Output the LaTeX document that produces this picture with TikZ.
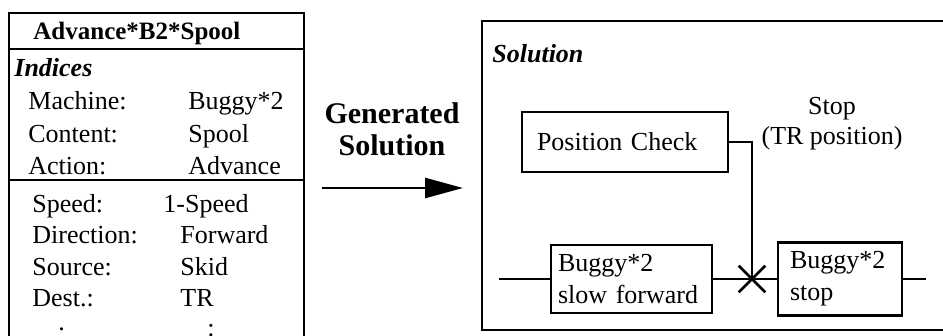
\documentclass[tikz,border=0pt]{standalone}
\usepackage{fontspec}
\setmainfont{Liberation Serif}
\usetikzlibrary{positioning, arrows.meta, shapes.misc}
\tikzset{
frame/.style={line width=1.2pt}, % the two outer panels
blk/.style={draw, rectangle, line width=1.1pt, align=left}, % function blocks
wire/.style={line width=1.3pt}, % signal lines
}

\begin{document}
\begin{tikzpicture}[x=0.5pt, y=-0.5pt, font=\fontsize{13}{16}\selectfont, lbl/.style={anchor=base west, inner sep=0pt}, >={Triangle[length=19pt,width=10pt]}]
\useasboundingbox (0,0) rectangle (943,336);
% index table
\draw[frame] (9,336) -- (9,13) -- (304,13) -- (304,336);
\draw[frame] (9,49) -- (304,49) (9,180) -- (304,180);
\node[lbl, font=\fontsize{12.5}{15}\selectfont\bfseries] (title) at (33,40) {Advance*B2*Spool};
\node[lbl, font=\fontsize{13}{16}\selectfont\bfseries\itshape] (idx) at (14,77) {Indices};
\foreach \k/\v/\y in {Machine:/Buggy*2/110, Content:/Spool/143, Action:/Advance/175}
  {\node[lbl] (k\y) at (28,\y) {\k}; \node[lbl] (v\y) at (188,\y) {\v};}
\foreach \k/\v/\vx/\y in {Speed:/1-Speed/163/213, Direction:/Forward/180/244, Source:/Skid/180/276, Dest.:/TR/180/307}
  {\node[lbl] (k\y) at (32,\y) {\k}; \node[lbl] (v\y) at (\vx,\y) {\v};}
\node[lbl] (dl) at (58,331) {.};
\node[lbl] (dr) at (207,337) {:};

% generated solution arrow
\node[align=center, font=\fontsize{15}{16}\selectfont\bfseries] (gen) at (392,129) {Generated\\Solution};
\coordinate (ga) at (322,188);
\coordinate (gb) at (463,188);
\draw[wire, ->] (ga) -- (gb);

% solution panel
\draw[frame] (943,21) -- (482,21) -- (482,330) -- (943,330);
\node[lbl, font=\fontsize{13}{16}\selectfont\bfseries\itshape] (sol) at (492,63) {Solution};
\node[blk, minimum width=103pt, minimum height=30pt, text width=88pt, inner xsep=7.5pt] (pc) at (625,142) {Position Check};
\node[blk, minimum width=80.5pt, minimum height=34pt, text width=73.5pt, inner xsep=3.5pt] (sfwd) at (631.5,279) {Buggy*2\\slow forward};
\node[blk, minimum width=62pt, minimum height=36.5pt, text width=50pt, inner xsep=6pt] (stop) at (840,279) {Buggy*2\\stop};
\node[cross out, draw, line width=1.3pt, minimum size=12pt, inner sep=0pt] (xing) at (752,279) {};
\node[align=center, font=\fontsize{13}{15}\selectfont] (stp) at (832,124) {Stop\\(TR position)};
\coordinate (lin) at (499,279);
\coordinate (lout) at (926,279);

\draw[wire] (lin) -- (sfwd.west);
\draw[wire] (sfwd.east) -- (xing.center) -- (stop.west);
\draw[wire] (stop.east) -- (lout);
\draw[wire] (pc.east) -| (xing.center);
\end{tikzpicture}
\end{document}
